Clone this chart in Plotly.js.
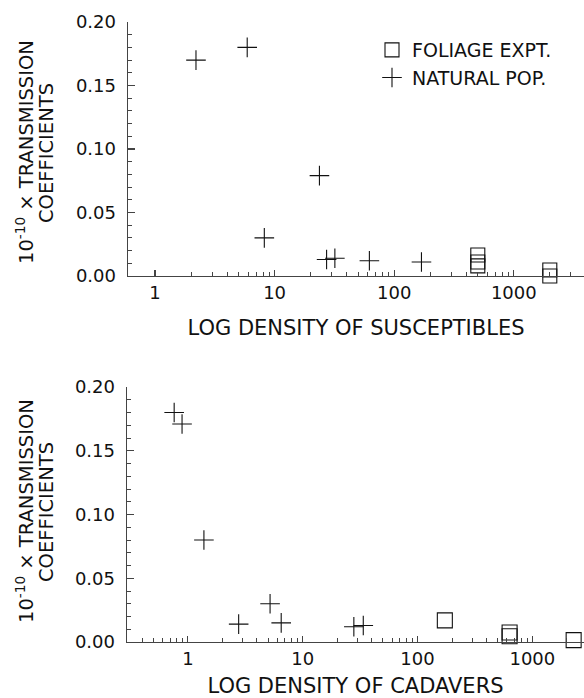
<!DOCTYPE html>
<html>
<head>
<meta charset="utf-8">
<script src="https://cdn.plot.ly/plotly-3.0.1.min.js"></script>
<style>body{margin:0;background:#fff}</style>
</head>
<body>
<div id="chart" style="width:584px;height:698px"></div>
<script>
// Top panel: density of susceptibles
const suscNaturalX = [2.2, 5.9, 8.2, 23.7, 27.2, 31.9, 62, 169];
const suscNaturalY = [0.170, 0.180, 0.030, 0.079, 0.013, 0.014, 0.012, 0.011];
const suscFoliageX = [500, 500, 500, 2000, 2000];
const suscFoliageY = [0.0165, 0.011, 0.008, 0.0047, 0.000];

// Bottom panel: density of cadavers
const cadNaturalX = [0.76, 0.89, 1.38, 2.77, 5.2, 6.5, 27.9, 33.7];
const cadNaturalY = [0.180, 0.171, 0.080, 0.014, 0.030, 0.015, 0.012, 0.013];
const cadFoliageX = [173, 634, 634, 2290];
const cadFoliageY = [0.017, 0.0075, 0.0045, 0.0015];

const xTickVals = [1, 10, 100, 1000];
const xTickText = ['1', '10', '100', '1000'];
const yTickVals = [0, 0.05, 0.10, 0.15, 0.20];
const yTickText = ['0.00', '0.05', '0.10', '0.15', '0.20'];

const legendNames = ['FOLIAGE EXPT.', 'NATURAL POP.'];

function minorLog(start) {
  const out = [];
  for (let d = 0.1; d <= 1000; d *= 10) {
    for (let k = 2; k <= 9; k++) {
      const v = +(k * d).toPrecision(3);
      if (v >= start) out.push(v);
    }
  }
  return out;
}

const ink = '#111';
const font = {family: 'DejaVu Sans, Liberation Sans, Arial, sans-serif', color: ink};
function f(size) { return Object.assign({size: size}, font); }

const plusMarker = {symbol: 'cross-thin-open', size: 14, color: ink, line: {width: 1.1, color: ink}};
const squareMarker = {symbol: 'square-open', size: 14, color: ink, line: {width: 1.1, color: ink}};

const traces = [
  {x: suscFoliageX, y: suscFoliageY, type: 'scatter', mode: 'markers', name: legendNames[0],
   marker: squareMarker, xaxis: 'x', yaxis: 'y', cliponaxis: false},
  {x: suscNaturalX, y: suscNaturalY, type: 'scatter', mode: 'markers', name: legendNames[1],
   marker: plusMarker, xaxis: 'x', yaxis: 'y', cliponaxis: false},
  {x: cadFoliageX, y: cadFoliageY, type: 'scatter', mode: 'markers', name: legendNames[0],
   marker: Object.assign({}, squareMarker, {size: 15}), xaxis: 'x2', yaxis: 'y2', showlegend: false, cliponaxis: false},
  {x: cadNaturalX, y: cadNaturalY, type: 'scatter', mode: 'markers', name: legendNames[1],
   marker: plusMarker, xaxis: 'x2', yaxis: 'y2', showlegend: false, cliponaxis: false}
];

function xAxis(domain, range, minorStart, titleText, anchor, standoff) {
  return {
    type: 'log', domain: domain, range: range, anchor: anchor,
    showgrid: false, zeroline: false,
    showline: true, linecolor: '#444', linewidth: 1.4,
    ticks: 'inside', ticklen: 6, tickwidth: 1.2, tickcolor: '#444',
    tickmode: 'array', tickvals: xTickVals, ticktext: xTickText,
    tickfont: f(18),
    minor: {tickmode: 'array', tickvals: minorLog(minorStart), ticks: 'inside', ticklen: 4, tickwidth: 1, tickcolor: '#444', showgrid: false},
    title: {text: titleText, font: f(21), standoff: standoff}
  };
}

function yAxis(domain, anchor) {
  return {
    domain: domain, range: [0, 0.2], anchor: anchor,
    showgrid: false, zeroline: false,
    showline: true, linecolor: '#444', linewidth: 1.4,
    ticks: 'inside', ticklen: 7, tickwidth: 1.2, tickcolor: '#444',
    tickmode: 'array', tickvals: yTickVals, ticktext: yTickText,
    tickfont: f(18),
    ticklabelstandoff: 7,
    minor: {dtick: 0.01, ticks: 'inside', ticklen: 4, tickwidth: 1, tickcolor: '#444', showgrid: false}
  };
}

const W = 584, H = 698;
function yTitle(text, x, y) {
  return {text: text, x: x / W, y: 1 - y / H, xref: 'paper', yref: 'paper',
          textangle: -90, showarrow: false, xanchor: 'center', yanchor: 'middle', font: f(19.5)};
}

const layout = {
  width: W, height: H,
  margin: {l: 0, r: 0, t: 0, b: 0},
  paper_bgcolor: '#fff', plot_bgcolor: '#fff',
  font: font,
  showlegend: true,
  legend: {x: 372 / W, y: 1 - 31 / H, xanchor: 'left', yanchor: 'top',
           font: f(19), bgcolor: 'rgba(0,0,0,0)', tracegroupgap: 0},
  xaxis: xAxis([128 / W, 1], [-0.226, 3.587], 2, 'LOG DENSITY OF SUSCEPTIBLES', 'y', 18),
  yaxis: yAxis([1 - 276 / H, 1 - 22 / H], 'x'),
  xaxis2: xAxis([127 / W, 1], [-0.53, 3.45], 0.3, 'LOG DENSITY OF CADAVERS', 'y2', 19),
  yaxis2: yAxis([1 - 642 / H, 1 - 387 / H], 'x2'),
  annotations: [
    yTitle('10<sup>-10</sup> × TRANSMISSION', 25, 152),
    yTitle('COEFFICIENTS', 46, 153),
    yTitle('10<sup>-10</sup> × TRANSMISSION', 25, 511),
    yTitle('COEFFICIENTS', 46, 512)
  ]
};

Plotly.newPlot('chart', traces, layout, {staticPlot: true, displayModeBar: false});
</script>
</body>
</html>
